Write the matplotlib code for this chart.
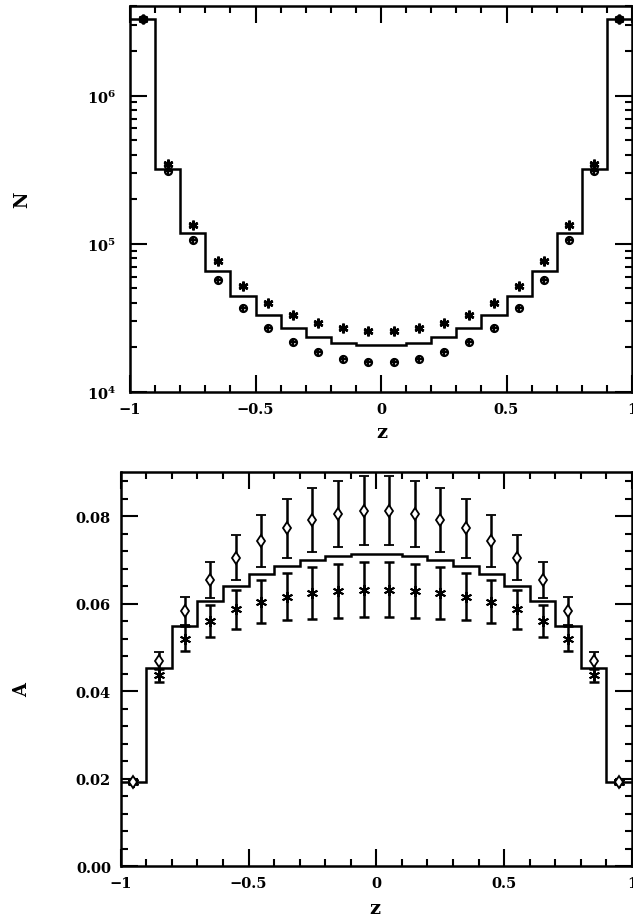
import numpy as np
import matplotlib
matplotlib.use("Agg")
import matplotlib.pyplot as plt
from matplotlib.ticker import FixedLocator, MultipleLocator, LogLocator, NullFormatter, FuncFormatter

# ---------------- data ----------------
bin_edges = [-1.0, -0.9, -0.8, -0.7, -0.6, -0.5, -0.4, -0.3, -0.2, -0.1, 0.0,
             0.1, 0.2, 0.3, 0.4, 0.5, 0.6, 0.7, 0.8, 0.9, 1.0]
bin_centres = [-0.95, -0.85, -0.75, -0.65, -0.55, -0.45, -0.35, -0.25, -0.15, -0.05,
               0.05, 0.15, 0.25, 0.35, 0.45, 0.55, 0.65, 0.75, 0.85, 0.95]

N_hist = [3.3e6, 3.2e5, 1.19e5, 6.6e4, 4.45e4, 3.33e4, 2.72e4, 2.36e4, 2.14e4, 2.06e4,
          2.06e4, 2.14e4, 2.36e4, 2.72e4, 3.33e4, 4.45e4, 6.6e4, 1.19e5, 3.2e5, 3.3e6]
N_upper = [3.3e6, 3.45e5, 1.33e5, 7.64e4, 5.22e4, 4.01e4, 3.31e4, 2.91e4, 2.69e4, 2.57e4,
           2.57e4, 2.69e4, 2.91e4, 3.31e4, 4.01e4, 5.22e4, 7.64e4, 1.33e5, 3.45e5, 3.3e6]
N_lower = [3.3e6, 3.11e5, 1.06e5, 5.69e4, 3.70e4, 2.72e4, 2.17e4, 1.85e4, 1.68e4, 1.60e4,
           1.60e4, 1.68e4, 1.85e4, 2.17e4, 2.72e4, 3.70e4, 5.69e4, 1.06e5, 3.11e5, 3.3e6]

A_hist = [0.0193, 0.0453, 0.0550, 0.0605, 0.0641, 0.0668, 0.0687, 0.0700, 0.0709, 0.0713,
          0.0713, 0.0709, 0.0700, 0.0687, 0.0668, 0.0641, 0.0605, 0.0550, 0.0453, 0.0193]
A_diam = [0.0193, 0.0470, 0.0584, 0.0655, 0.0705, 0.0743, 0.0772, 0.0792, 0.0805, 0.0812,
          0.0812, 0.0805, 0.0792, 0.0772, 0.0743, 0.0705, 0.0655, 0.0584, 0.0470, 0.0193]
A_diam_err = [0.0004, 0.0019, 0.0032, 0.0041, 0.0052, 0.0060, 0.0067, 0.0073, 0.0076, 0.0079,
              0.0079, 0.0076, 0.0073, 0.0067, 0.0060, 0.0052, 0.0041, 0.0032, 0.0019, 0.0004]
A_ast = [0.0193, 0.0436, 0.0520, 0.0561, 0.0587, 0.0604, 0.0616, 0.0625, 0.0629, 0.0632,
         0.0632, 0.0629, 0.0625, 0.0616, 0.0604, 0.0587, 0.0561, 0.0520, 0.0436, 0.0193]
A_ast_err = [0.0004, 0.0015, 0.0029, 0.0037, 0.0044, 0.0049, 0.0054, 0.0059, 0.0061, 0.0062,
             0.0062, 0.0061, 0.0059, 0.0054, 0.0049, 0.0044, 0.0037, 0.0029, 0.0015, 0.0004]

x_ticks = [-1, -0.5, 0, 0.5, 1]
x_ticklabels = ["\u22121", "\u22120.5", "0", "0.5", "1"]
A_ticks = [0.0, 0.02, 0.04, 0.06, 0.08]
A_ticklabels = ["0.00", "0.02", "0.04", "0.06", "0.08"]

# ---------------- figure ----------------
plt.rcParams['font.family'] = ['DejaVu Serif']
plt.rcParams['mathtext.fontset'] = 'dejavuserif'
fig = plt.figure(figsize=(6.33, 9.2), dpi=100)

W, H = 633.0, 920.0
ax1 = fig.add_axes([130 / W, (H - 393) / H, (632 - 130) / W, (393 - 7.3) / H])
ax2 = fig.add_axes([120.7 / W, (H - 867.3) / H, (632 - 120.7) / W, (867.3 - 473.3) / H])

def style(ax, ypad):
    for s in ax.spines.values():
        s.set_linewidth(1.8)
    ax.tick_params(which='both', direction='in', top=True, right=True, width=1.5)
    ax.tick_params(which='major', length=12)
    ax.tick_params(which='minor', length=5)
    ax.tick_params(axis='x', which='major', pad=7, labelsize=10.5)
    ax.tick_params(axis='y', which='major', pad=ypad, labelsize=10.5)
    ax.set_xlim(-1, 1)
    ax.xaxis.set_major_locator(FixedLocator(x_ticks))
    ax.set_xticklabels(x_ticklabels, fontweight='bold')
    ax.xaxis.set_minor_locator(MultipleLocator(0.1))

# top panel
ax1.set_yscale('log')
ax1.set_ylim(1e4, 4.0e6)
ax1.stairs(N_hist, bin_edges, color='black', linewidth=1.8, baseline=None)
ax1.plot(bin_centres, N_upper, linestyle='none', marker=(6, 2, 0), markersize=7,
         markeredgewidth=1.8, color='black')
ax1.plot(bin_centres, N_upper, linestyle='none', marker='_', markersize=6,
         markeredgewidth=1.2, color='black')
ax1.plot(bin_centres, N_lower, linestyle='none', marker='o', markersize=5,
         markeredgewidth=1.6, color='black', fillstyle='none')
ax1.plot(bin_centres, N_lower, linestyle='none', marker='+', markersize=6,
         markeredgewidth=1.6, color='black')
style(ax1, 10)
ax1.yaxis.set_major_locator(LogLocator(base=10, numticks=10))
ax1.yaxis.set_minor_locator(LogLocator(base=10, subs=np.arange(2, 10), numticks=20))
ax1.yaxis.set_minor_formatter(NullFormatter())
ax1.yaxis.set_major_formatter(FuncFormatter(lambda v, p: r'$\mathbf{10^{%d}}$' % int(round(np.log10(v)))))

# bottom panel
ax2.set_ylim(0, 0.09)
ax2.stairs(A_hist, bin_edges, color='black', linewidth=1.8, baseline=None)
ax2.errorbar(bin_centres, A_diam, yerr=A_diam_err, fmt='d', markersize=6,
             markerfacecolor='white', markeredgecolor='black', markeredgewidth=1.3,
             ecolor='black', elinewidth=1.8, capsize=3.5, capthick=1.8, color='black')
ax2.errorbar(bin_centres, A_ast, yerr=A_ast_err, fmt='none',
             ecolor='black', elinewidth=1.8, capsize=3.5, capthick=1.8)
ax2.plot(bin_centres, A_ast, linestyle='none', marker=(6, 2, 0), markersize=8,
         markeredgewidth=1.4, color='black')
style(ax2, 7)
ax2.yaxis.set_major_locator(FixedLocator(A_ticks))
ax2.set_yticklabels(A_ticklabels, fontweight='bold')
ax2.yaxis.set_minor_locator(MultipleLocator(0.004))

# axis labels
fig.text(22 / W, 1 - 200 / H, 'N', rotation=90, ha='center', va='center',
         fontsize=13, fontweight='bold')
fig.text(22 / W, 1 - 690 / H, 'A', rotation=90, ha='center', va='center',
         fontsize=13, fontweight='bold')
fig.text(382 / W, 1 - 433 / H, 'z', ha='center', va='center', fontsize=14, fontweight='bold')
fig.text(375 / W, 1 - 909 / H, 'z', ha='center', va='center', fontsize=14, fontweight='bold')

fig.savefig('out.png', dpi=100)
